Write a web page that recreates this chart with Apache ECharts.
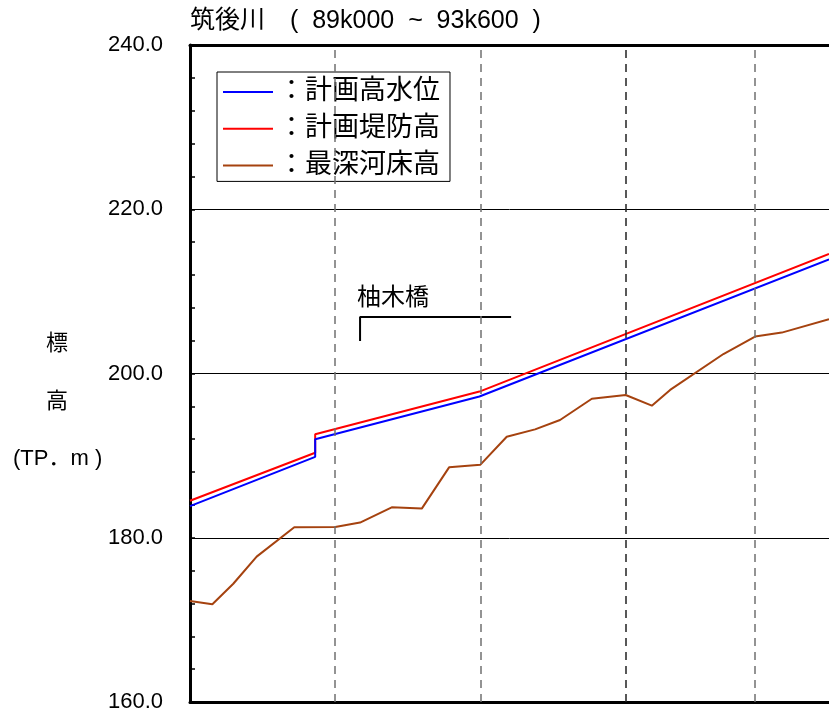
<!DOCTYPE html>
<html>
<head>
<meta charset="utf-8">
<script src="https://cdn.jsdelivr.net/npm/echarts@6/dist/echarts.min.js"></script>
<style>
html, body { margin: 0; padding: 0; background: #fff; }
#chart { width: 829px; height: 718px; }
</style>
</head>
<body>
<div id="chart"></div>
<script>
// 距離 (km) と標高 (TP.m)
const planKm = [89.0, 89.862, 89.862, 90.993, 93.4];
const planHWL = [183.85, 189.85, 192.0, 197.2, 213.9];      // 計画高水位
const planLevee = [184.5, 190.35, 192.6, 197.8, 214.55];    // 計画堤防高

const bedKm = [89.0, 89.154, 89.298, 89.459, 89.718, 90.0, 90.171, 90.389, 90.596, 90.784, 91.0,
    91.181, 91.376, 91.548, 91.767, 92.0, 92.18, 92.306, 92.673, 92.891, 93.075, 93.4];
const bedLevel = [172.3, 171.9, 174.4, 177.7, 181.27, 181.3, 181.85, 183.7, 183.55, 188.57, 188.9,
    192.3, 193.2, 194.34, 196.93, 197.38, 196.08, 198.0, 202.37, 204.5, 204.98, 206.6];  // 最深河床高

const kmPosts = [90.0, 91.0, 92.0, 92.89];
const kmPostColors = ['#707070', '#707070', '#222222', '#707070'];

const bridgeName = '柚木橋';
const bridgeKm = [90.171, 90.171, 91.211];
const bridgeLevel = [203.96, 206.88, 206.88];

const seriesNames = ['：計画高水位', '：計画堤防高', '：最深河床高'];
const cjk = '"Liberation Sans", "Noto Sans CJK JP", sans-serif';

const zip = (xs, ys) => xs.map((x, i) => [x, ys[i]]);

var myChart = echarts.init(document.getElementById('chart'));
myChart.setOption({
    animation: false,
    title: {
        text: '筑後川\u3000(  89k000  ~  93k600  )',
        left: 190,
        top: 9,
        padding: 0,
        textStyle: { fontSize: 25, fontWeight: 'normal', color: '#000', fontFamily: cjk }
    },
    legend: {
        data: seriesNames,
        orient: 'vertical',
        left: 217,
        top: 72,
        padding: [6, 10, 2, 6],
        itemGap: 8.7,
        itemWidth: 50,
        itemHeight: 2,
        icon: 'rect',
        backgroundColor: '#fff',
        borderColor: '#000',
        borderWidth: 1,
        borderRadius: 0,
        textStyle: { fontSize: 27, lineHeight: 28, color: '#000', fontFamily: cjk }
    },
    grid: {
        left: 190,
        right: 0,
        top: 45,
        bottom: 16
    },
    xAxis: [
        {
            type: 'value',
            min: 89.0,
            max: 93.4,
            axisLine: { show: true, lineStyle: { color: '#000', width: 3 } },
            axisTick: { show: false },
            axisLabel: { show: false },
            splitLine: { show: false }
        },
        {
            type: 'value',
            position: 'top',
            min: 89.0,
            max: 93.4,
            axisLine: { show: true, lineStyle: { color: '#000', width: 3 } },
            axisTick: { show: false },
            axisLabel: { show: false },
            splitLine: { show: false }
        }
    ],
    yAxis: {
        type: 'value',
        min: 160,
        max: 240,
        interval: 20,
        axisLine: { show: true, lineStyle: { color: '#000', width: 3 } },
        axisTick: { show: true, inside: true, length: 5, lineStyle: { color: '#000', width: 1.5 } },
        minorTick: { show: true, splitNumber: 5, length: 5, lineStyle: { color: '#000', width: 1.5 } },
        axisLabel: {
            margin: 27,
            fontSize: 22,
            color: '#000',
            fontFamily: '"Liberation Sans", sans-serif',
            formatter: v => v.toFixed(1)
        },
        splitLine: { show: true, lineStyle: { color: '#000', width: 1 } }
    },
    graphic: [
        { type: 'text', left: 46, top: 333, style: { text: '標', fontSize: 22, fill: '#000', fontFamily: cjk } },
        { type: 'text', left: 46, top: 391, style: { text: '高', fontSize: 22, fill: '#000', fontFamily: cjk } },
        { type: 'text', left: 13, top: 448, style: { text: '(TP．m )', fontSize: 22, fill: '#000', fontFamily: cjk } }
    ],
    series: [
        {
            name: seriesNames[0],
            type: 'line',
            data: zip(planKm, planHWL),
            symbol: 'none',
            color: '#0000ff',
            lineStyle: { width: 2 },
            z: 4
        },
        {
            name: seriesNames[1],
            type: 'line',
            data: zip(planKm, planLevee),
            symbol: 'none',
            color: '#ff0000',
            lineStyle: { width: 2 },
            z: 3
        },
        {
            name: seriesNames[2],
            type: 'line',
            data: zip(bedKm, bedLevel),
            symbol: 'none',
            color: '#a5420f',
            lineStyle: { width: 2 },
            z: 3,
            markLine: {
                silent: true,
                symbol: 'none',
                label: { show: false },
                data: kmPosts.map((km, i) => ({
                    xAxis: km,
                    lineStyle: { color: kmPostColors[i], width: 1.5, type: [8, 6] }
                }))
            }
        },
        {
            name: bridgeName,
            type: 'line',
            data: zip(bridgeKm, bridgeLevel),
            symbol: 'none',
            color: '#000',
            lineStyle: { width: 2 },
            z: 3,
            markPoint: {
                silent: true,
                symbol: 'circle',
                symbolSize: 1,
                itemStyle: { color: 'transparent' },
                data: [{
                    coord: [bridgeKm[1], bridgeLevel[1]],
                    label: {
                        show: true,
                        position: 'top',
                        align: 'left',
                        distance: 6,
                        offset: [-3, 0],
                        formatter: bridgeName,
                        fontSize: 24,
                        color: '#000',
                        fontFamily: cjk
                    }
                }]
            }
        }
    ]
});
</script>
</body>
</html>
